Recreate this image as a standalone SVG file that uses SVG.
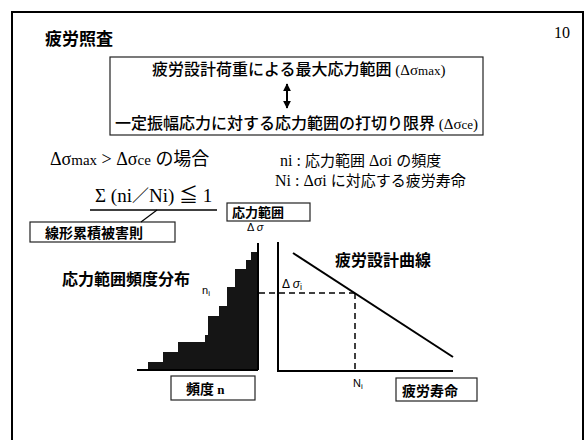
<svg xmlns="http://www.w3.org/2000/svg" width="587" height="440" viewBox="0 0 587 440">
<defs>
<style>
.jb{font-family:"Noto Sans CJK JP","Noto Sans",sans-serif;font-weight:bold;fill:#000}
.jm{font-family:"Liberation Serif","Noto Sans CJK JP",serif;fill:#000}
.jc{font-family:"Noto Sans CJK JP",sans-serif;fill:#000}
.sm{font-family:"Liberation Sans","Noto Sans CJK JP",sans-serif;fill:#000}
.box{fill:#fff;stroke:#222;stroke-width:1.2}
.ax{stroke:#000;stroke-width:2;fill:none}
.dash{stroke:#000;stroke-width:1.5;stroke-dasharray:6 4;fill:none}
</style>
<marker id="ah" viewBox="0 0 10 10" refX="9" refY="5" markerWidth="4" markerHeight="4" orient="auto-start-reverse">
<path d="M0,0 L10,5 L0,10 z" fill="#000"/>
</marker>
</defs>
<rect x="0" y="0" width="587" height="440" fill="#fff"/>
<rect x="12" y="12" width="571" height="450" fill="none" stroke="#000" stroke-width="2"/>

<g id="title">
<text class="jb" x="45" y="45" font-size="17">疲労照査</text>
</g>
<g id="page">
<text class="jm" x="554" y="38" font-size="16">10</text>
</g>

<g id="compare-box">
<rect class="box" x="110" y="57" width="373" height="78"/>
<text class="jc" x="152" y="75" font-size="16" font-weight="500">疲労設計荷重による最大応力範囲<tspan class="jm" font-size="15" font-weight="normal"> (Δσ<tspan font-size="13">max</tspan>)</tspan></text>
<text class="jc" x="115" y="129" font-size="16" font-weight="500">一定振幅応力に対する応力範囲の打切り限界<tspan class="jm" font-size="15" font-weight="normal"> (Δσ<tspan font-size="13">ce</tspan>)</tspan></text>
</g>

<g id="condition">
<text class="jm" x="50" y="165" font-size="18">Δσ<tspan font-size="15">max</tspan> &gt; Δσ<tspan font-size="15">ce</tspan> <tspan class="jc" font-size="18">の場合</tspan></text>
</g>

<g id="definitions">
<text class="jm" x="280" y="166" font-size="16">ni : <tspan class="jc" font-size="15">応力範囲</tspan> Δσi <tspan class="jc" font-size="15">の頻度</tspan></text>
<text class="jm" x="275" y="186" font-size="16">Ni : Δσi <tspan class="jc" font-size="15">に対応する疲労寿命</tspan></text>
</g>

<g id="miner">
<text class="jm" x="95" y="202" font-size="19">Σ (ni<tspan class="jc" font-size="17">／</tspan>Ni) ≦ 1</text>
</g>

<g id="miner-label">
<rect class="box" x="30" y="222" width="145" height="20"/>
<text class="jb" x="45" y="238" font-size="14">線形累積被害則</text>
</g>

<g id="stress-label">
<rect class="box" x="227" y="203" width="83" height="18"/>
<text class="jb" x="232" y="217" font-size="13">応力範囲</text>
<text class="sm" x="247" y="231" font-size="11">Δ <tspan font-style="italic">σ</tspan></text>
</g>

<g id="histogram">
<polygon fill="#151515" points="258,370 148,370 148,362 163,362 163,352 178,352 178,342 205,342 205,335 208,335 208,316 219,316 219,306 227,306 227,287 235,287 235,269 246,269 246,260 251,260 251,252 258,252"/>
<text class="jb" x="62" y="285" font-size="16">応力範囲頻度分布</text>
<text class="sm" x="202" y="294" font-size="11">n<tspan font-size="8" dy="2">i</tspan></text>
</g>

<g id="freq-label">
<rect class="box" x="171" y="376" width="84" height="24"/>
<text class="jb" x="186" y="394" font-size="14">頻度 <tspan class="jm" font-size="13">n</tspan></text>
</g>

<g id="sn-curve">
<text class="jb" x="335" y="266" font-size="16">疲労設計曲線</text>
<text class="sm" x="282" y="288" font-size="12">Δ <tspan font-style="italic">σ</tspan><tspan font-size="9" dy="2">i</tspan></text>
<text class="sm" x="353" y="387" font-size="11">N<tspan font-size="8" dy="2">i</tspan></text>
</g>

<g id="life-label">
<rect class="box" x="396" y="378" width="81" height="23"/>
<text class="jb" x="402" y="396" font-size="14">疲労寿命</text>
</g>

<g id="connectors">
<line x1="287" y1="84" x2="287" y2="108" stroke="#000" stroke-width="2" marker-start="url(#ah)" marker-end="url(#ah)"/>
<line x1="90" y1="210" x2="217" y2="210" stroke="#000" stroke-width="1.5"/>
<line x1="157" y1="210" x2="141" y2="222" stroke="#000" stroke-width="1.2"/>
<line class="ax" x1="137" y1="370" x2="258" y2="370"/>
<line class="ax" x1="258" y1="243" x2="258" y2="370"/>
<line class="ax" x1="278" y1="242" x2="278" y2="371"/>
<line class="ax" x1="277" y1="371" x2="453" y2="371"/>
<line class="ax" x1="293" y1="253" x2="453" y2="357"/>
<line class="dash" x1="259" y1="293" x2="355" y2="293"/>
<line class="dash" x1="355" y1="293" x2="355" y2="370"/>
</g>
</svg>
